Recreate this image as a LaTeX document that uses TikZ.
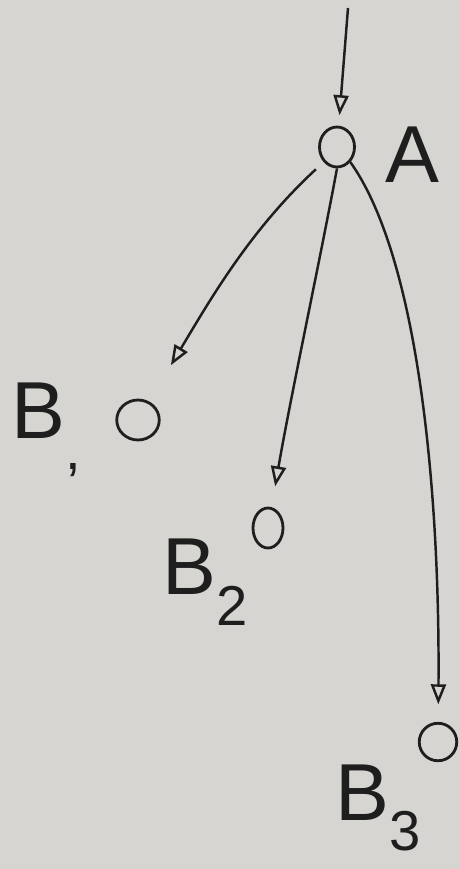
\documentclass[tikz,border=0pt]{standalone}
\usepackage{fontspec}
\setmainfont{Liberation Sans}
\usetikzlibrary{arrows.meta,shapes.geometric}
\definecolor{paper}{RGB}{214,213,209}
\definecolor{ink}{RGB}{30,30,30}
\tikzset{
  state/.style={draw=ink, line width=1.6pt, ellipse, minimum width=0.7cm, minimum height=0.8cm, inner sep=0pt},
  edge/.style={draw=ink, line width=1.4pt, -{Triangle[open,length=0.4cm,width=0.3cm]}},
  lab/.style={text=ink, font=\fontsize{46}{50}\selectfont, inner sep=0pt},
}
\newcommand{\subs}[1]{\raisebox{-0.38em}{\fontsize{32}{34}\selectfont #1}}
\begin{document}
\begin{tikzpicture}[x=0.02cm,y=-0.02cm]
\fill[paper] (0,0) rectangle (459,869);
\useasboundingbox (0,0) rectangle (459,869);
\node[state] (A) at (337,147) {};
\node[state, minimum width=0.85cm] (B1) at (138,420) {};
\node[state, minimum width=0.6cm] (B2) at (268,528) {};
\node[state, minimum width=0.75cm, minimum height=0.75cm] (B3) at (438,742) {};
\coordinate (in) at (348,8);
\node[lab] (lA) at (412,155) {A};
\node[lab] (lB1) at (46,430) {B\subs{,}};
\node[lab] (lB2) at (205,582) {B\subs{2}};
\node[lab] (lB3) at (378,808) {B\subs{3}};
\draw[edge, shorten >=6pt] (in) -- (A);
\draw[edge, shorten >=24pt, shorten <=6pt] (A.south west) .. controls (250,230) and (210,300) .. (B1);
\draw[edge, shorten >=12pt] (A.south) .. controls (320,260) and (290,400) .. (B2);
\draw[edge, shorten >=10pt] (A.south east) .. controls (420,260) and (440,500) .. (B3);
\end{tikzpicture}
\end{document}
